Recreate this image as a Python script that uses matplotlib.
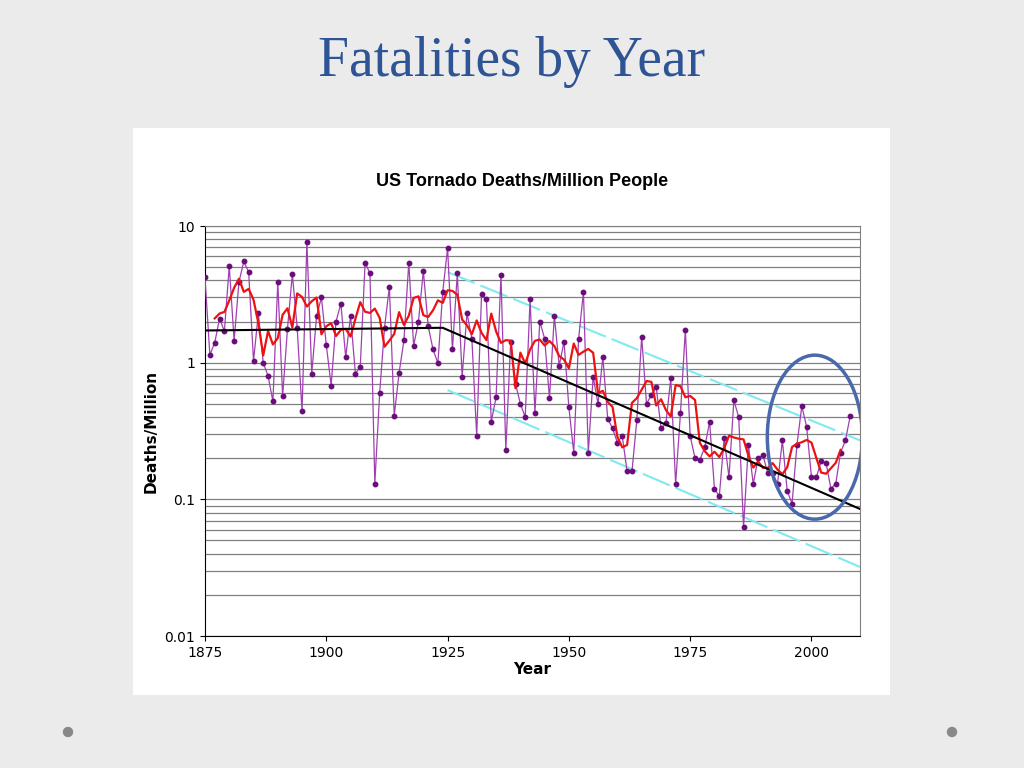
import numpy as np
import pandas as pd
import matplotlib
matplotlib.use('Agg')
import matplotlib.pyplot as plt
from matplotlib.patches import Ellipse, Rectangle
from matplotlib.ticker import FixedLocator, LogLocator, NullFormatter

# Yearly deaths per million people (1875-2008)
years = list(range(1875, 2009))
deaths = [4.2, 1.14, 1.4, 2.1, 1.7, 5.1, 1.45, 3.9, 5.5, 4.6,
          1.03, 2.3, 1.0, 0.8, 0.52, 3.9, 0.57, 1.77, 4.45, 1.8,
          0.44, 7.6, 0.83, 2.2, 3.0, 1.35, 0.68, 2.0, 2.7, 1.1,
          2.2, 0.83, 0.93, 5.4, 4.5, 0.13, 0.6, 1.8, 3.6, 0.41,
          0.84, 1.46, 5.4, 1.33, 2.0, 4.7, 1.85, 1.25, 0.99, 3.3,
          6.9, 1.25, 4.5, 0.79, 2.3, 1.5, 0.29, 3.2, 2.9, 0.37,
          0.56, 4.4, 0.23, 1.42, 0.7, 0.5, 0.4, 2.9, 0.43, 2.0,
          1.5, 0.55, 2.2, 0.95, 1.42, 0.47, 0.22, 1.49, 3.3, 0.22,
          0.79, 0.5, 1.1, 0.39, 0.33, 0.26, 0.29, 0.16, 0.16, 0.38,
          1.55, 0.5, 0.58, 0.66, 0.33, 0.36, 0.77, 0.13, 0.43, 1.74,
          0.29, 0.2, 0.195, 0.24, 0.37, 0.12, 0.105, 0.28, 0.145, 0.53,
          0.4, 0.063, 0.25, 0.13, 0.2, 0.21, 0.155, 0.155, 0.13, 0.27,
          0.115, 0.093, 0.25, 0.48, 0.34, 0.145, 0.145, 0.19, 0.185, 0.12,
          0.13, 0.22, 0.27, 0.41]

# trend line and channel, as drawn on the chart
trend_years = [1875, 1924, 2010]
trend_vals = [1.72, 1.8, 0.085]
upper_years = [1925, 2010]
upper_vals = [4.6, 0.27]
lower_years = [1925, 2010]
lower_vals = [0.63, 0.032]

smooth = pd.Series(deaths, index=years).rolling(5, center=True).mean()

fig = plt.figure(figsize=(10.24, 7.68), dpi=100)
fig.patch.set_facecolor('#ebebeb')
fig.patches.append(Rectangle((133/1024, 1-695/768), 757/1024, 567/768,
                             transform=fig.transFigure, facecolor='white',
                             edgecolor='none', zorder=-1))
fig.text(0.5, 1-62/768, 'Fatalities by Year', ha='center', va='center',
         fontsize=40, color='#2f5496', family='Liberation Serif')
fig.text(0.51, 1-181/768, 'US Tornado Deaths/Million People', ha='center',
         va='center', fontsize=13, fontweight='bold', family='Liberation Sans')
for xd in (68, 952):
    fig.patches.append(Ellipse((xd/1024, 1-732/768), 9/1024, 9/768,
                               transform=fig.transFigure, color='#888888'))

ax = fig.add_axes([205/1024, 1-636/768, 655/1024, 410/768])
ax.set_zorder(2)
ax.set_facecolor('white')
ax.set_yscale('log')
ax.set_ylim(0.01, 10)
ax.set_xlim(1875, 2010)
ax.yaxis.set_minor_locator(LogLocator(subs=np.arange(2, 10)))
ax.yaxis.set_minor_formatter(NullFormatter())
ax.set_yticks([0.01, 0.1, 1, 10])
ax.set_yticklabels(['0.01', '0.1', '1', '10'])
ax.xaxis.set_major_locator(FixedLocator([1875, 1900, 1925, 1950, 1975, 2000]))
ax.grid(True, axis='y', which='both', color='#808080', lw=0.9)
for s in ('top', 'right'):
    ax.spines[s].set_color('#808080')
ax.tick_params(labelsize=10)
ax.tick_params(axis='y', which='minor', length=0)

ax.plot(years, deaths, color='#a040b0', lw=0.9, marker='o', ms=3.2,
        mfc='#6a0d7a', mec='#6a0d7a', zorder=3)
ax.plot(smooth.index, smooth.values, color='#ee1111', lw=1.6, zorder=4)
ax.plot(trend_years, trend_vals, color='black', lw=1.5, zorder=5)
ax.plot(upper_years, upper_vals, color='#80eaf0', lw=1.5, ls=(0, (14, 3)))
ax.plot(lower_years, lower_vals, color='#80eaf0', lw=1.5, ls=(0, (14, 3)))

ax.add_patch(Ellipse((0.931, 0.485), 0.145, 0.40, transform=ax.transAxes,
                     fill=False, edgecolor='#4a69ad', lw=2.5, zorder=6))

ax.set_xlabel('Year', fontsize=11, fontweight='bold', labelpad=2)
ax.set_ylabel('Deaths/Million', fontsize=11, fontweight='bold')

plt.savefig('out.png', dpi=100)
